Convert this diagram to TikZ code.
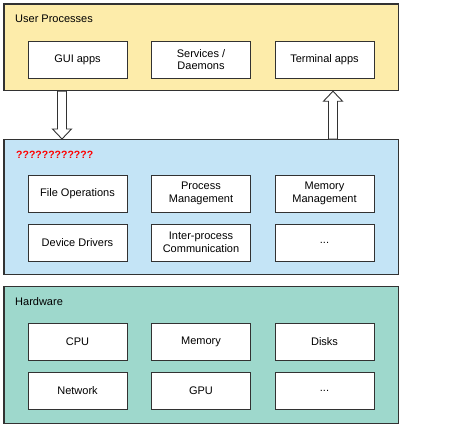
\documentclass[tikz,border=0pt]{standalone}
\usepackage{fontspec}
\setmainfont{Liberation Sans}
\usepackage{xcolor}
\usetikzlibrary{calc}
\definecolor{userfill}{RGB}{253,236,170}
\definecolor{kernelfill}{RGB}{196,228,246}
\definecolor{hwfill}{RGB}{158,216,204}
\definecolor{edge}{RGB}{50,50,50}
\tikzset{
  layer/.style={draw=edge, line width=1.2pt, minimum width=394.7pt, anchor=north west, inner sep=0pt},
  item/.style={draw=edge, line width=1pt, fill=white, minimum width=99pt, minimum height=37pt, align=center, inner sep=1pt},
  layertitle/.style={anchor=west, inner sep=0pt},
  blockarrow/.style={draw=edge, line width=0.9pt, fill=white},
}

\begin{document}
\begin{tikzpicture}[x=1pt, y=-1pt, font=\fontsize{11}{12.5}\selectfont]
\useasboundingbox (0,0) rectangle (469,426);
\node[layer, fill=userfill, minimum height=86.7pt] (user) at (3.3,3.3) {};
\node[layer, fill=kernelfill, minimum height=135pt] (kernel) at (3.3,139) {};
\node[layer, fill=hwfill, minimum height=137pt] (hw) at (3.3,286) {};
\node[layertitle] (usertitle) at (15,19) {User Processes};
\node[layertitle, text=red, font=\bfseries\fontsize{10.5}{12}\selectfont] (kerneltitle) at (16,155) {????????????};
\node[layertitle] (hwtitle) at (15,302) {Hardware};
\node[item] (gui) at (77.5,59.5) {GUI apps};
\node[item] (svc) at (201,59.5) {Services /\\Daemons};
\node[item] (term) at (324.5,59.5) {Terminal apps};
\node[item] (fileops) at (77.5,193.5) {File Operations};
\node[item] (procmgmt) at (201,193.5) {Process\\Management};
\node[item] (memmgmt) at (324.5,193.5) {Memory\\Management};
\node[item] (drivers) at (77.5,242.5) {Device Drivers};
\node[item] (ipc) at (201,242.5) {Inter-process\\Communication};
\node[item] (kmore) at (324.5,242.5) {...};
\node[item] (cpu) at (77.5,341.5) {CPU};
\node[item] (mem) at (201,341.5) {Memory};
\node[item] (disks) at (324.5,341.5) {Disks};
\node[item] (net) at (77.5,391) {Network};
\node[item] (gpu) at (201,391) {GPU};
\node[item] (hmore) at (324.5,391) {...};
% arrows between user space and kernel
\coordinate (dntop) at ($(user.south west)+(58.7,0)$);
\coordinate (dnbot) at ($(kernel.north west)+(58.7,0)$);
\coordinate (uptop) at ($(user.south west)+(329.7,0)$);
\coordinate (upbot) at ($(kernel.north west)+(329.7,0)$);
\draw[blockarrow] let \p1=(dntop), \p2=(dnbot) in
  (\x1-4.5,\y1) -- (\x1+4.5,\y1) -- (\x1+4.5,\y2+10) -- (\x1+9.5,\y2+10)
  -- (\x2,\y2) -- (\x1-9.5,\y2+10) -- (\x1-4.5,\y2+10) -- cycle;
\draw[blockarrow] let \p1=(upbot), \p2=(uptop) in
  (\x1-4.5,\y1) -- (\x1+4.5,\y1) -- (\x1+4.5,\y2-10) -- (\x1+9.5,\y2-10)
  -- (\x2,\y2) -- (\x1-9.5,\y2-10) -- (\x1-4.5,\y2-10) -- cycle;
\end{tikzpicture}
\end{document}
